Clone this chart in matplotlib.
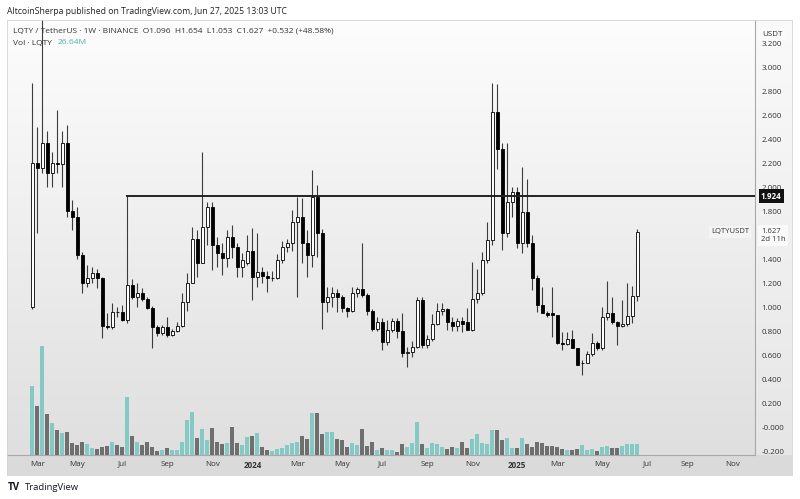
import numpy as np
import pandas as pd
import matplotlib
matplotlib.use('Agg')
import matplotlib.pyplot as plt
from matplotlib.patches import Rectangle
from matplotlib.colors import LinearSegmentedColormap

plt.rcParams['font.family'] = ['Open Sans', 'DejaVu Sans']

# weekly LQTY/USDT candles, first week starts 2023-02-27
start = pd.Timestamp('2023-02-27')
opens = [1.00, 2.20, 2.16, 2.37, 2.12, 2.20, 2.19, 2.37, 1.80, 1.75,
         1.43, 1.20, 1.24, 1.28, 1.24, 0.84, 0.83, 0.96, 0.955, 0.89,
         1.18, 1.08, 1.12, 1.07, 0.99, 0.83, 0.78, 0.83, 0.77, 0.80,
         0.84, 1.04, 1.20, 1.57, 1.37, 1.67, 1.83, 1.52, 1.45, 1.41,
         1.58, 1.50, 1.33, 1.37, 1.47, 1.25, 1.29, 1.26, 1.24, 1.245,
         1.39, 1.50, 1.53, 1.71, 1.75, 1.53, 1.43, 1.92, 1.62, 1.04,
         1.08, 1.12, 1.08, 0.99, 0.97, 1.12, 1.15, 1.10, 0.97, 0.82,
         0.875, 0.71, 0.81, 0.88, 0.80, 0.62, 0.625, 0.67, 1.06, 0.68,
         0.73, 0.86, 0.97, 0.98, 0.875, 0.84, 0.88, 0.875, 0.81, 1.07,
         1.12, 1.39, 1.56, 2.625, 2.32, 1.62, 1.875, 1.96, 1.53, 1.79,
         1.53, 1.24, 1.02, 0.95, 0.95, 0.93, 0.70, 0.69, 0.73, 0.66,
         0.53, 0.535, 0.61, 0.70, 0.66, 0.92, 0.95, 0.875, 0.84, 0.86,
         0.925, 1.096]
highs = [2.87, 2.50, 3.50, 2.47, 2.29, 2.64, 2.47, 2.52, 1.89, 1.83,
         1.46, 1.35, 1.33, 1.32, 1.25, 0.95, 1.03, 1.00, 1.02, 1.924,
         1.23, 1.20, 1.16, 1.08, 1.01, 0.85, 0.85, 0.92, 0.82, 0.875,
         1.12, 1.28, 1.67, 1.64, 2.29, 1.875, 1.875, 1.58, 1.53, 1.64,
         1.68, 1.53, 1.45, 1.60, 1.66, 1.62, 1.33, 1.30, 1.30, 1.44,
         1.55, 1.57, 1.81, 1.92, 1.91, 1.64, 2.14, 2.02, 1.65, 1.17,
         1.17, 1.15, 1.10, 1.00, 1.17, 1.17, 1.53, 1.12, 0.98, 0.92,
         0.91, 0.89, 0.91, 0.91, 0.95, 0.67, 0.72, 1.08, 1.08, 0.77,
         0.94, 1.03, 1.03, 0.99, 0.92, 0.91, 0.92, 0.99, 1.375, 1.32,
         1.46, 1.71, 2.87, 2.86, 2.37, 2.37, 2.00, 2.00, 2.17, 2.07,
         1.60, 1.27, 1.17, 0.97, 1.17, 0.93, 0.79, 0.79, 0.81, 0.66,
         0.56, 0.63, 0.78, 0.72, 1.00, 1.22, 1.08, 0.88, 1.06, 1.20,
         1.175, 1.654]
lows = [0.98, 1.62, 2.12, 2.00, 2.00, 2.12, 2.00, 1.75, 1.64, 1.40,
        1.12, 1.17, 1.20, 1.16, 0.74, 0.82, 0.82, 0.92, 0.88, 0.87,
        1.07, 1.00, 1.05, 0.98, 0.66, 0.76, 0.77, 0.75, 0.76, 0.79,
        0.83, 0.97, 1.20, 1.25, 1.37, 1.52, 1.31, 1.33, 1.27, 1.33,
        1.41, 1.25, 1.25, 1.35, 1.06, 1.17, 1.20, 1.125, 1.22, 1.23,
        1.37, 1.46, 1.47, 1.08, 1.37, 1.25, 1.33, 1.42, 0.82, 0.96,
        1.00, 0.96, 0.96, 0.92, 0.96, 1.08, 1.08, 0.93, 0.80, 0.80,
        0.64, 0.68, 0.79, 0.74, 0.58, 0.50, 0.58, 0.66, 0.66, 0.66,
        0.72, 0.85, 0.93, 0.81, 0.80, 0.80, 0.79, 0.81, 0.80, 1.03,
        1.10, 1.37, 1.52, 2.15, 1.475, 1.58, 1.75, 1.49, 1.45, 1.50,
        1.14, 0.96, 0.95, 0.92, 0.75, 0.69, 0.64, 0.68, 0.67, 0.52,
        0.43, 0.53, 0.59, 0.64, 0.64, 0.89, 0.86, 0.68, 0.83, 0.84,
        0.87, 1.053]
closes = [2.20, 2.16, 2.37, 2.12, 2.20, 2.19, 2.37, 1.80, 1.75, 1.43,
          1.20, 1.24, 1.28, 1.24, 0.84, 0.83, 0.96, 0.955, 0.89, 1.18,
          1.08, 1.12, 1.07, 0.99, 0.83, 0.78, 0.83, 0.77, 0.80, 0.84,
          1.04, 1.20, 1.57, 1.37, 1.67, 1.83, 1.52, 1.45, 1.41, 1.58,
          1.50, 1.33, 1.39, 1.47, 1.25, 1.29, 1.26, 1.24, 1.245, 1.39,
          1.50, 1.53, 1.71, 1.75, 1.53, 1.43, 1.92, 1.62, 1.04, 1.08,
          1.12, 1.08, 0.99, 0.97, 1.12, 1.15, 1.10, 0.97, 0.82, 0.875,
          0.71, 0.81, 0.88, 0.80, 0.62, 0.625, 0.67, 1.06, 0.68, 0.73,
          0.86, 0.97, 0.98, 0.875, 0.84, 0.88, 0.86, 0.81, 1.07, 1.12,
          1.39, 1.56, 2.625, 2.32, 1.62, 1.875, 1.96, 1.53, 1.79, 1.53,
          1.24, 1.02, 0.95, 0.93, 0.93, 0.70, 0.69, 0.73, 0.66, 0.52,
          0.535, 0.61, 0.70, 0.66, 0.92, 0.95, 0.875, 0.84, 0.86, 0.925,
          1.096, 1.627]
# volume in millions of LQTY
volumes = [167, 119, 264, 99, 77, 61, 53, 56, 29, 24,
           31, 27, 17, 15, 19, 22, 31, 24, 19, 140,
           46, 31, 24, 31, 19, 10, 12, 17, 12, 12,
           31, 85, 104, 41, 63, 36, 65, 31, 27, 29,
           68, 29, 24, 44, 46, 53, 19, 12, 10, 15,
           17, 24, 29, 31, 46, 39, 102, 102, 51, 56,
           56, 39, 36, 19, 29, 24, 63, 22, 31, 12,
           17, 12, 12, 7, 27, 19, 29, 80, 27, 17,
           29, 27, 19, 15, 19, 17, 31, 17, 39, 51,
           29, 27, 61, 61, 36, 41, 17, 17, 41, 27,
           19, 31, 29, 22, 22, 19, 15, 12, 12, 15,
           24, 12, 15, 10, 19, 22, 17, 17, 22, 27,
           27, 26.64]

level = 1.924
level_start = 19

# 1.600 sits under the last-price tag, so it is left out
ytick_vals = [3.2, 3.0, 2.8, 2.6, 2.4, 2.2, 2.0, 1.8, 1.4, 1.2, 1.0,
              0.8, 0.6, 0.4, 0.2, 0.0, -0.2]
ytick_labels = ['3.200', '3.000', '2.800', '2.600', '2.400', '2.200', '2.000',
                '1.800', '1.400', '1.200', '1.000', '0.800', '0.600',
                '0.400', '0.200', '-0.000', '-0.200']
month_starts = ['2023-03-01', '2023-05-01', '2023-07-01', '2023-09-01',
                '2023-11-01', '2024-01-01', '2024-03-01', '2024-05-01',
                '2024-07-01', '2024-09-01', '2024-11-01', '2025-01-01',
                '2025-03-01', '2025-05-01', '2025-07-01', '2025-09-01',
                '2025-11-01']
month_labels = ['Mar', 'May', 'Jul', 'Sep', 'Nov', '2024', 'Mar', 'May', 'Jul',
                'Sep', 'Nov', '2025', 'Mar', 'May', 'Jul', 'Sep', 'Nov']

W, H = 800, 499


def fbox(x0, y0, x1, y1):
    return [x0 / W, 1 - y1 / H, (x1 - x0) / W, (y1 - y0) / H]


def fpt(x, y):
    return x / W, 1 - y / H


o = np.array(opens)
h = np.array(highs)
l = np.array(lows)
c = np.array(closes)
v = np.array(volumes)
x = np.arange(len(o))
up = c >= o

fig = plt.figure(figsize=(8, 4.99), dpi=100)
fig.patch.set_facecolor('white')

xlo, xhi = -5.06, 144.54
ylo, yhi = -0.233, 3.392

grad = np.linspace(0, 1, 256).reshape(-1, 1)
bg = LinearSegmentedColormap.from_list('bg', ['#dfdfdf', '#fdfdfd'])
bg2 = LinearSegmentedColormap.from_list('bg2', ['#e6e6e6', '#fafafa'])

# price-scale panel and time-scale band
pax = fig.add_axes(fbox(755, 20, 792, 455), zorder=-1)
pax.imshow(grad, extent=[0, 1, 0, 1], origin='lower', aspect='auto', cmap=bg2)
pax.axis('off')
fig.add_artist(Rectangle(fpt(7, 475), (792 - 7) / W, 20 / H, transform=fig.transFigure,
                         facecolor='#dadada', edgecolor='none', zorder=-2))

ax = fig.add_axes(fbox(7, 20, 755, 455))
ax.imshow(grad, extent=[xlo, xhi, ylo, yhi], origin='lower', aspect='auto',
          cmap=bg, zorder=0)

# volume on its own scale
vax = ax.twinx()
vax.bar(x, v, width=0.8, color=np.where(up, '#84c9c3', '#6f6f6f'), zorder=1)
vax.set_ylim(0, 1053)
vax.set_yticks([])
for s in vax.spines.values():
    s.set_visible(False)

# candles
ax.vlines(x, l, h, color='#3c3c3c', linewidth=0.8, zorder=2)
body = np.maximum(np.abs(c - o), 0.006)
ax.bar(x, body, bottom=np.minimum(o, c), width=0.62,
       color=np.where(up, 'white', 'black'), edgecolor='black',
       linewidth=0.6, zorder=3)

# horizontal resistance drawing
ax.plot([level_start, xhi], [level, level], color='#222222', linewidth=1.4, zorder=4)

ax.set_xlim(xlo, xhi)
ax.set_ylim(ylo, yhi)

ax.yaxis.tick_right()
ax.set_yticks(ytick_vals)
ax.set_yticklabels(ytick_labels)
ax.tick_params(axis='y', length=0, pad=4.5, labelsize=5.8, labelcolor='#333333')

tick_pos = [int(np.ceil((pd.Timestamp(d) - start).days / 7)) for d in month_starts]
ax.set_xticks(tick_pos)
ax.set_xticklabels(month_labels)
ax.tick_params(axis='x', length=0, pad=4, labelsize=5.8, labelcolor='#333333')
for t in ax.get_xticklabels():
    if t.get_text().isdigit():
        t.set_fontweight('bold')

for name, s in ax.spines.items():
    if name in ('right', 'bottom'):
        s.set_color('#a8a8a8')
        s.set_linewidth(0.8)
    else:
        s.set_visible(False)

# frame
fig.add_artist(Rectangle(fpt(7, 475), (792 - 7) / W, (475 - 20) / H, transform=fig.transFigure,
                         facecolor='none', edgecolor='#d4d4d4', linewidth=0.6, zorder=5))

# header texts
fig.text(*fpt(7, 12), 'AltcoinSherpa published on TradingView.com, Jun 27, 2025 13:03 UTC',
         fontsize=6.2, color='#222222', va='center')
fig.text(*fpt(13, 31), 'LQTY / TetherUS \u00b7 1W \u00b7 BINANCE  O1.096  H1.654  L1.053  C1.627  +0.532 (+48.58%)',
         fontsize=6.0, color='#333333', va='center')
fig.text(*fpt(13, 43), 'Vol \u00b7 LQTY', fontsize=6.0, color='#333333', va='center')
fig.text(*fpt(58, 43), '26.64M', fontsize=6.0, color='#4fb0a8', va='center')

# price-scale labels
trans = ax.get_yaxis_transform()
ax.text(1.0 + 7 / 748, 3.275, 'USDT', transform=trans, fontsize=5.8, color='#333333',
        va='center', ha='left', zorder=10, clip_on=False,
        bbox=dict(boxstyle='square,pad=0.35', facecolor='#fbfbfb', edgecolor='none'))
ax.text(1.0 + 6 / 748, level, '1.924', transform=trans, fontsize=5.8, color='white',
        fontweight='bold', va='center', ha='left', zorder=10, clip_on=False,
        bbox=dict(boxstyle='square,pad=0.3', facecolor='#111111', edgecolor='none'))
ax.text(1.0 + 6 / 748, c[-1] - 0.03, '1.627\n2d 11h', transform=trans, fontsize=5.5,
        color='#333333', va='center', ha='left', zorder=10, clip_on=False, linespacing=1.2,
        bbox=dict(boxstyle='square,pad=0.35', facecolor='#fafafa', edgecolor='none'))
ax.text(1.0 - 6 / 748, c[-1], 'LQTYUSDT', transform=trans, fontsize=5.5, color='#333333',
        va='center', ha='right', zorder=10,
        bbox=dict(boxstyle='square,pad=0.3', facecolor='#f4f4f4', edgecolor='none'))

# footer logo
fig.text(*fpt(8, 487), 'TV', fontsize=7, fontweight='bold', color='#131722', va='center')
fig.text(*fpt(25, 487), 'TradingView', fontsize=6.8, color='#131722', va='center')

fig.savefig('out.png', dpi=100)
